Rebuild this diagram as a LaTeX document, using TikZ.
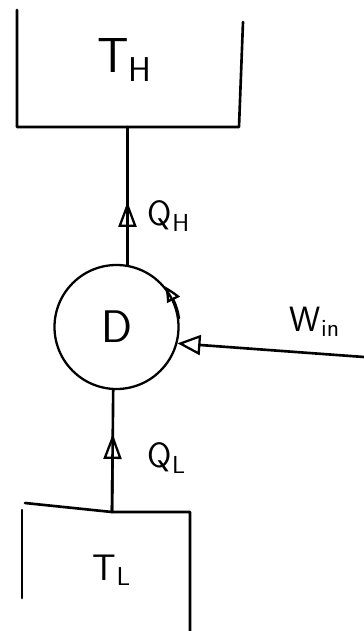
\documentclass[tikz,border=0pt]{standalone}
\usetikzlibrary{arrows.meta,bending,calc}
\tikzset{
 hand/.style={line width=1.5pt,line cap=round,line join=round},
 opentip/.style={-{Triangle[open,length=0.46cm,width=0.4cm,line width=1.3pt]}},
 midtip/.style={-{Triangle[open,length=0.5cm,width=0.36cm,line width=1.3pt]}},
 lbl/.style={font=\sffamily\fontsize{#1}{#1}\selectfont,inner sep=0pt}
}
\begin{document}
\begin{tikzpicture}
 \useasboundingbox (0,0) rectangle (7.28,-12.62);
 \draw[hand] (0.34,-0.2) -- (0.34,-2.54) coordinate (hl) -- (4.78,-2.54) coordinate (hr) -- (4.86,-0.44);
 \node[lbl=28] (TH) at (2.5,-1.2) {T\textsubscript{H}};
 \node[hand,line width=1.3pt,draw,circle,minimum size=2.48cm,lbl=26] (D) at (2.33,-6.54) {D};
 \draw[hand] (D.80) -- (D.80 |- hl);
 \draw[hand,midtip] (D.80) -- ++(0,1.26);
 \node[lbl=20] (QH) at (3.38,-4.32) {Q\textsubscript{H}};
 \draw[hand,line width=1.3pt,-{Triangle[open,length=0.32cm,width=0.28cm,line width=1.3pt,bend]}] (D.8) arc[start angle=8,end angle=40,radius=1.26cm];
 \coordinate (win) at (7.28,-7.14);
 \draw[hand,opentip] (win) -- (D.-15);
 \node[lbl=20] (W) at (6.3,-6.44) {W\textsubscript{in}};
 \draw[hand] (0.5,-10.06) -- (2.24,-10.24) coordinate (lt) -- (3.8,-10.24) -- (3.8,-12.7);
 \draw[hand] (0.44,-10.2) -- (0.44,-11.96);
 \node[lbl=21] (TL) at (2.24,-11.4) {T\textsubscript{L}};
 \draw[hand] (lt) -- (D.-93);
 \draw[hand,midtip] (lt) -- ($(lt)!0.64!(D.-93)$);
 \node[lbl=20] (QL) at (3.34,-9.16) {Q\textsubscript{L}};
\end{tikzpicture}
\end{document}
